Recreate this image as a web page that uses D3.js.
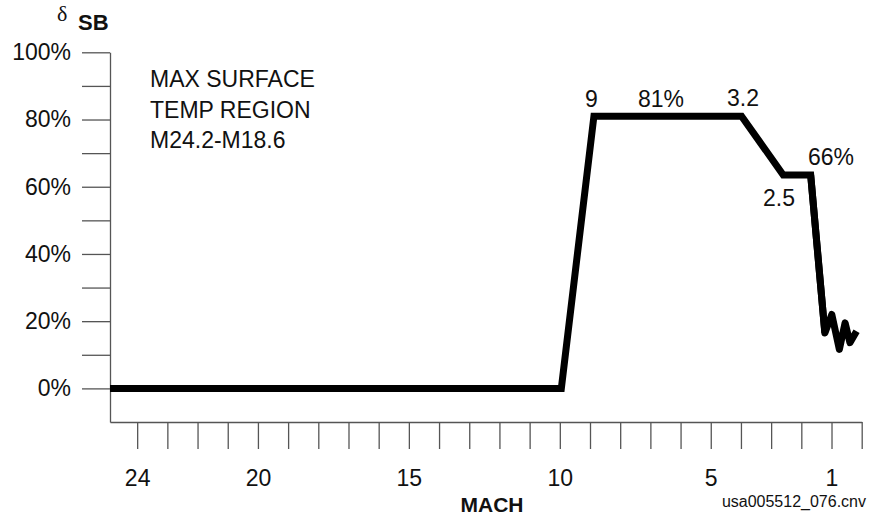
<!DOCTYPE html>
<html>
<head>
<meta charset="utf-8">
<script src="https://cdn.jsdelivr.net/npm/d3@7/dist/d3.min.js"></script>
<style>
  html, body { margin: 0; padding: 0; background: #fff; }
  svg { display: block; }
  text { font-family: "Liberation Sans", Arial, Helvetica, sans-serif; fill: #111; }
</style>
</head>
<body>
<svg id="chart" width="870" height="516"></svg>
<script>
// ---- data ----
const mach = [24.9, 9.95, 8.87, 3.98, 2.6, 1.69, 1.22, 0.99, 0.74, 0.55, 0.39, 0.17];
const sbPct = [0, 0, 81, 81, 63.5, 63.5, 16.5, 22, 11.6, 19.5, 13.6, 17];

const xTickValues = d3.range(0, 25);
const xTickLabels = [24, 20, 15, 10, 5, 1];
const yTickValues = d3.range(0, 101, 10);
const yTickLabels = [0, 20, 40, 60, 80, 100];

const pointLabels = ["9", "81%", "3.2", "66%", "2.5"];
const pointLabelMach = [8.95, 6.65, 3.93, 1.02, 2.74];
const pointLabelPct = [83.8, 83.8, 84, 66.5, 54.4];

const noteLines = ["MAX SURFACE", "TEMP REGION", "M24.2-M18.6"];

// ---- layout ----
const svg = d3.select("#chart");
const x = d3.scaleLinear().domain([24.9, 0]).range([110, 861.7]);
const y = d3.scaleLinear().domain([-10, 100]).range([422, 52.3]);

const axisColor = "#555";

// Y axis
const yAxis = d3.axisLeft(y)
  .tickValues(yTickValues)
  .tickSize(28)
  .tickSizeOuter(0)
  .tickPadding(11)
  .tickFormat(d => yTickLabels.includes(d) ? d + "%" : "");
const gy = svg.append("g").attr("transform", "translate(110,0)").call(yAxis);
gy.selectAll("path, line").attr("stroke", axisColor).attr("stroke-width", 1.3);
gy.selectAll("text").style("font-size", "23px").attr("fill", "#111")
  .style("font-family", '"Liberation Sans", Arial, sans-serif');

// X axis
const xAxis = d3.axisBottom(x)
  .tickValues(xTickValues)
  .tickSize(27)
  .tickSizeOuter(0)
  .tickPadding(21)
  .tickFormat(d => xTickLabels.includes(d) ? String(d) : "");
const gx = svg.append("g").attr("transform", "translate(0,422)").call(xAxis);
gx.selectAll("path, line").attr("stroke", axisColor).attr("stroke-width", 1.3);
gx.selectAll("text").style("font-size", "23px").attr("fill", "#111")
  .style("font-family", '"Liberation Sans", Arial, sans-serif');

// Data line: main part with sharp corners, zig-zag tail with round joins
const pts = mach.map((m, i) => [m, sbPct[i]]);
const line = d3.line().x(d => x(d[0])).y(d => y(d[1]));
svg.append("path")
  .datum(pts.slice(0, 7))
  .attr("d", line)
  .attr("fill", "none")
  .attr("stroke", "#000")
  .attr("stroke-width", 7)
  .attr("stroke-linejoin", "miter")
  .attr("stroke-miterlimit", 4)
  .attr("stroke-linecap", "butt");
svg.append("path")
  .datum(pts.slice(5))
  .attr("d", line)
  .attr("fill", "none")
  .attr("stroke", "#000")
  .attr("stroke-width", 7)
  .attr("stroke-linejoin", "round")
  .attr("stroke-linecap", "butt");

// Point labels
svg.selectAll(".plabel")
  .data(pointLabels)
  .enter().append("text")
  .attr("class", "plabel")
  .attr("x", (d, i) => x(pointLabelMach[i]))
  .attr("y", (d, i) => y(pointLabelPct[i]))
  .attr("text-anchor", "middle")
  .style("font-size", "23px")
  .text(d => d);

// Annotation
svg.append("text")
  .attr("x", 150).attr("y", 87)
  .style("font-size", "23px")
  .selectAll("tspan")
  .data(noteLines)
  .enter().append("tspan")
  .attr("x", 150)
  .attr("dy", (d, i) => i === 0 ? 0 : 30.5)
  .text(d => d);

// Axis titles
svg.append("text")
  .attr("x", 57).attr("y", 21)
  .style("font-family", '"Liberation Serif", "DejaVu Serif", serif')
  .style("font-size", "22px")
  .text("δ");
svg.append("text")
  .attr("x", 78).attr("y", 29.5)
  .style("font-size", "22px")
  .style("font-weight", "bold")
  .text("SB");

svg.append("text")
  .attr("x", 492).attr("y", 512)
  .attr("text-anchor", "middle")
  .style("font-size", "21px")
  .style("font-weight", "bold")
  .text("MACH");

svg.append("text")
  .attr("x", 866).attr("y", 507)
  .attr("text-anchor", "end")
  .style("font-size", "16px")
  .text("usa005512_076.cnv");
</script>
</body>
</html>
